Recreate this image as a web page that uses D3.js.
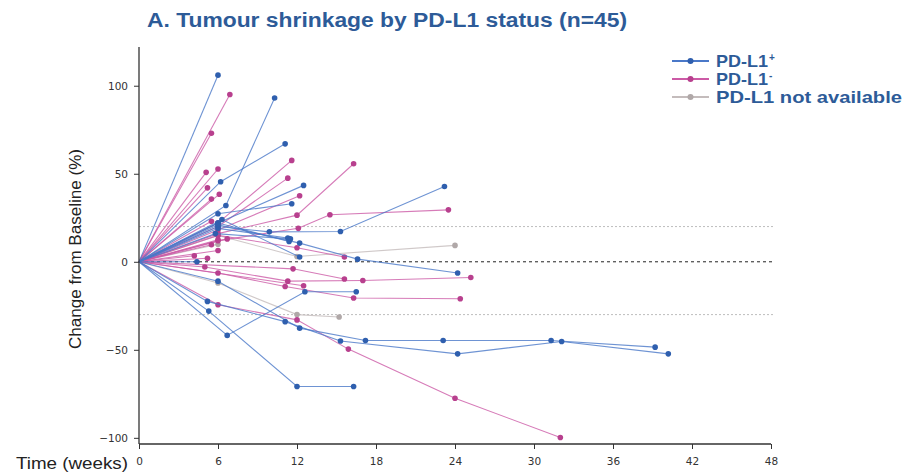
<!doctype html>
<html>
<head>
  <meta charset="utf-8">
  <script src="https://d3js.org/d3.v7.min.js"></script>
</head>
<style>
  body {
    margin: 0;
    background: #fff;
  }

  svg text {
    font-family: "Liberation Sans", Arial, sans-serif;
  }
</style>
<body>
<svg></svg>

<script>
  // each patient: [week, % change from baseline]
  const pdl1Pos = [
    [[0, 0], [6, 106]],
    [[0, 0], [6.6, 32], [10.3, 93]],
    [[0, 0], [6.2, 45.5], [11.1, 67]],
    [[0, 0], [6, 22], [12.5, 43.4]],
    [[0, 0], [6, 27.3], [11.6, 33]],
    [[0, 0], [6, 20], [9.9, 17], [15.3, 17.2], [23.2, 42.8]],
    [[0, 0], [6, 19], [11.3, 13.5]],
    [[0, 0], [6, 22], [11.4, 11.5]],
    [[0, 0], [6, 21], [12.2, 10.6], [16.6, 1.5], [24.2, -6.4]],
    [[0, 0], [4.4, 0]],
    [[0, 0], [6.3, 24], [12.2, 2.7]],
    [[0, 0], [5.8, 16], [11.5, 13]],
    [[0, 0], [6.7, -41.8], [12.6, -17], [16.5, -17]],
    [[0, 0], [5.3, -28], [12, -70.8], [16.3, -70.8]],
    [[0, 0], [5.2, -22.5], [11.1, -34], [15.3, -45], [24.2, -52.3], [32.1, -45.3], [40.2, -52.3]],
    [[0, 0], [6, -11], [12.2, -37.7], [17.2, -44.7], [23.1, -44.7], [31.3, -44.7], [39.2, -48.5]]
  ];
  const pdl1Neg = [
    [[0, 0], [6.9, 95]],
    [[0, 0], [5.5, 73]],
    [[0, 0], [6, 22], [11.6, 57.6]],
    [[0, 0], [5.1, 50.8]],
    [[0, 0], [6, 52.7]],
    [[0, 0], [6, 20], [11.3, 47.5]],
    [[0, 0], [5.2, 42]],
    [[0, 0], [6.1, 38.4]],
    [[0, 0], [5.5, 35.6]],
    [[0, 0], [6, 18], [12.2, 37.5]],
    [[0, 0], [6, 16], [12, 26.5], [16.3, 55.7]],
    [[0, 0], [6, 12], [12.1, 19], [14.5, 26.7], [23.5, 29.5]],
    [[0, 0], [5.5, 23]],
    [[0, 0], [6, 12.5]],
    [[0, 0], [6.7, 13]],
    [[0, 0], [5.5, 9.7]],
    [[0, 0], [6, 6.4]],
    [[0, 0], [5.2, 2]],
    [[0, 0], [4.2, 3.4]],
    [[0, 0], [6, 15], [12, 8], [15.6, 2.7]],
    [[0, 0], [11.7, -4], [15.6, -9.8]],
    [[0, 0], [6, -6.4], [11.1, -14], [16.3, -20.6], [24.4, -21]],
    [[0, 0], [5, -3], [11.3, -11], [17, -10.6], [25.2, -8.9]],
    [[0, 0], [12.5, -13.6]],
    [[0, 0], [6, -24.4], [12, -33], [15.9, -49.6], [24, -77.5], [32, -99.8]]
  ];
  const pdl1NA = [
    [[0, 0], [6, 15], [12, 3], [24, 9.3]],
    [[0, 0], [6, -12], [12, -30], [15.2, -31.4]],
    [[0, 0], [6, 10]]
  ];
  const xTicks = [0, 6, 12, 18, 24, 30, 36, 42, 48];
  const yTicks = [-100, -50, 0, 50, 100];
  const refLines = [20, -30];
  const legendLabels = ["PD-L1", "PD-L1", "PD-L1 not available"];
  const legendSups = ["+", "-", ""];

  const width = 922, height = 473;
  const colors = {
    pos: { line: "#4a78c8", dot: "#2f5fae" },
    neg: { line: "#cc5aa6", dot: "#b8408e" },
    na: { line: "#c4bcbc", dot: "#b0a8a8" }
  };

  const x = d3.scaleLinear().domain([0, 48]).range([139, 771]);
  const y = d3.scaleLinear().domain([-103.5, 122]).range([444, 47]);

  const svg = d3.select("svg")
    .attr("width", width)
    .attr("height", height);

  // reference lines
  svg.selectAll(".ref")
    .data(refLines)
    .enter().append("line")
    .attr("x1", x(0)).attr("x2", x(48.3))
    .attr("y1", d => y(d)).attr("y2", d => y(d))
    .attr("stroke", "#bdbdbd")
    .attr("stroke-width", 1)
    .attr("stroke-dasharray", "2,2");
  svg.append("line")
    .attr("x1", x(0)).attr("x2", x(48.3))
    .attr("y1", y(0)).attr("y2", y(0))
    .attr("stroke", "#222")
    .attr("stroke-width", 1)
    .attr("stroke-dasharray", "3,3");

  const line = d3.line().x(d => x(d[0])).y(d => y(d[1]));

  function drawGroup(data, c) {
    const g = svg.append("g");
    g.selectAll("path")
      .data(data)
      .enter().append("path")
      .attr("d", line)
      .attr("fill", "none")
      .attr("stroke", c.line)
      .attr("stroke-width", 1.1)
      .attr("opacity", 0.8);
    g.selectAll("circle")
      .data(data.flatMap(s => s.slice(1)))
      .enter().append("circle")
      .attr("cx", d => x(d[0]))
      .attr("cy", d => y(d[1]))
      .attr("r", 2.8)
      .attr("fill", c.dot);
  }
  drawGroup(pdl1NA, colors.na);
  drawGroup(pdl1Neg, colors.neg);
  drawGroup(pdl1Pos, colors.pos);

  // axes
  const xAxis = svg.append("g")
    .attr("transform", `translate(0, 444)`)
    .call(d3.axisBottom(x).tickValues(xTicks).tickSize(5).tickPadding(9));
  const yAxis = svg.append("g")
    .attr("transform", `translate(139, 0)`)
    .call(d3.axisLeft(y).tickValues(yTicks).tickSize(5).tickPadding(6));
  [xAxis, yAxis].forEach(a => {
    a.select(".domain").attr("stroke", "#333").attr("stroke-width", 1.3);
    a.selectAll(".tick line").attr("stroke", "#333");
    a.selectAll(".tick text")
      .attr("fill", "#333")
      .style("font-size", "10.5px")
      .style("font-family", "'DejaVu Sans', sans-serif");
  });
  yAxis.select(".domain").attr("d", `M0,${y(122)}V444`);
  xAxis.select(".domain").attr("d", `M${x(0)},0H${x(48)}`);

  // titles
  svg.append("text")
    .attr("x", 147).attr("y", 27)
    .attr("fill", "#2d5b98")
    .attr("textLength", 480)
    .attr("lengthAdjust", "spacingAndGlyphs")
    .style("font-size", "20px")
    .style("font-weight", "bold")
    .text("A. Tumour shrinkage by PD-L1 status (n=45)");

  svg.append("text")
    .attr("transform", "translate(81, 249) rotate(-90)")
    .attr("text-anchor", "middle")
    .attr("fill", "#222")
    .attr("textLength", 200)
    .attr("lengthAdjust", "spacingAndGlyphs")
    .style("font-size", "16px")
    .text("Change from Baseline (%)");

  svg.append("text")
    .attr("x", 16).attr("y", 469)
    .attr("fill", "#222")
    .attr("textLength", 112)
    .attr("lengthAdjust", "spacingAndGlyphs")
    .style("font-size", "16px")
    .text("Time (weeks)");

  // legend
  const legendColors = [colors.pos, colors.neg, colors.na];
  const lg = svg.append("g").attr("transform", "translate(672, 61)");
  legendLabels.forEach((label, i) => {
    const row = lg.append("g").attr("transform", `translate(0, ${i * 18})`);
    row.append("line")
      .attr("x1", 0).attr("x2", 37)
      .attr("stroke", legendColors[i].line)
      .attr("stroke-width", 2);
    row.append("circle")
      .attr("cx", 18.5).attr("r", 3)
      .attr("fill", legendColors[i].dot);
    const w = i === 2 ? 186 : 52;
    row.append("text")
      .attr("x", 44).attr("y", 6)
      .attr("fill", "#2d5b98")
      .attr("textLength", w)
      .attr("lengthAdjust", "spacingAndGlyphs")
      .style("font-size", "17px")
      .style("font-weight", "bold")
      .text(label);
    if (legendSups[i]) {
      row.append("text")
        .attr("x", 44 + w + 1).attr("y", 0)
        .attr("fill", "#2d5b98")
        .style("font-size", "10px")
        .style("font-weight", "bold")
        .text(legendSups[i]);
    }
  });
</script>
</body>
</html>
